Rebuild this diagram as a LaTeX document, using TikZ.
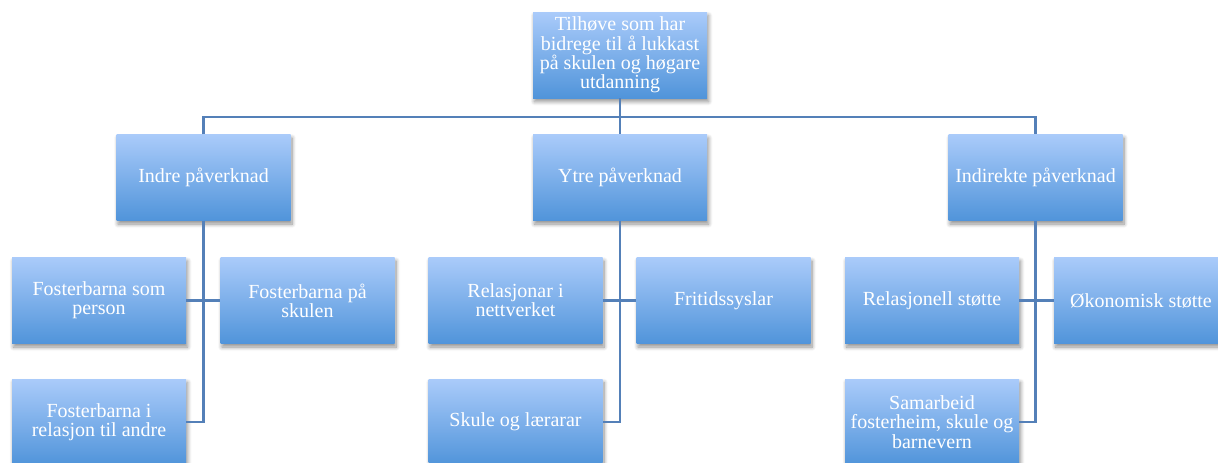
\documentclass[tikz,border=0pt]{standalone}
\usepackage{fontspec}
\setmainfont{Liberation Serif}
\usetikzlibrary{shadows.blur}
\definecolor{boxtop}{RGB}{170,203,250}
\definecolor{boxbot}{RGB}{80,148,218}
\definecolor{linec}{RGB}{84,128,184}
\begin{document}
\begin{tikzpicture}[x=1pt,y=-1pt,
  box/.style={rectangle, minimum width=174pt, minimum height=86pt, inner sep=1pt,
    top color=boxtop, bottom color=boxbot, draw=none, text=white, align=center,
    font=\fontsize{20}{19.2}\selectfont,
    blur shadow={shadow xshift=1.5pt, shadow yshift=-3.5pt, shadow blur steps=8, shadow blur radius=4pt, shadow opacity=45}},
  conn/.style={draw=linec, line width=2.6pt}]
\useasboundingbox (0,0) rectangle (1218,463);
\node[box] (top) at (620,55) {Tilhøve som har\\bidrege til å lukkast\\på skulen og høgare\\utdanning};
\node[box] (A) at (203.5,177.5) {Indre påverknad};
\node[box] (B) at (620,177.5) {Ytre påverknad};
\node[box] (C) at (1035.5,177.5) {Indirekte påverknad};
\node[box] (A1) at (99,300.5) {Fosterbarna som\\person};
\node[box] (A2) at (307.5,300.5) {Fosterbarna på\\skulen};
\node[box] (A3) at (99,422) {Fosterbarna i\\relasjon til andre};
\node[box] (B1) at (515.5,300.5) {Relasjonar i\\nettverket};
\node[box] (B2) at (723.5,300.5) {Fritidssyslar};
\node[box] (B3) at (515.5,422) {Skule og lærarar};
\node[box] (C1) at (932,300.5) {Relasjonell støtte};
\node[box] (C2) at (1141,300.5) {Økonomisk støtte};
\node[box] (C3) at (932,422) {Samarbeid\\fosterheim, skule og\\[1pt]barnevern};
\coordinate (bus) at (620,117);
\draw[conn] (top.south) -- (bus);
\draw[conn] (A.north) |- (bus) -| (C.north);
\draw[conn] (bus) -- (B.north);
\draw[conn] (A.south) |- (A3.east);
\draw[conn] (A1.east) -- (A2.west);
\draw[conn] (B.south) |- (B3.east);
\draw[conn] (B1.east) -- (B2.west);
\draw[conn] (C.south) |- (C3.east);
\draw[conn] (C1.east) -- (C2.west);
\end{tikzpicture}
\end{document}
